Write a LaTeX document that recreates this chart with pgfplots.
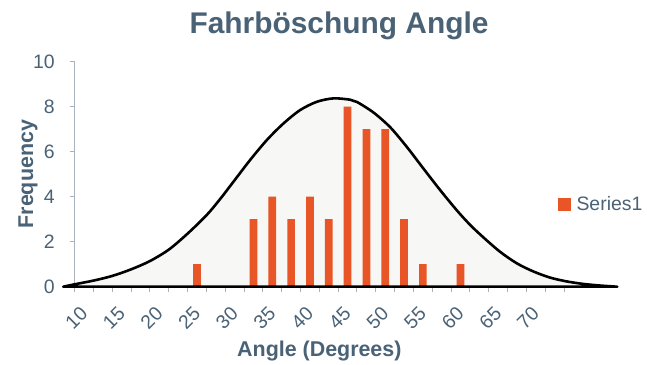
\documentclass[border=0pt]{standalone}
\usepackage{pgfplots}
\pgfplotsset{compat=1.18}
\usepackage{pgfplotstable}
\usepackage{fontspec}
\setmainfont{Liberation Sans}

\definecolor{textcol}{RGB}{74,98,118}
\definecolor{axiscol}{RGB}{170,178,188}
\definecolor{barcol}{RGB}{232,85,38}
\definecolor{areacol}{RGB}{247,247,245}

% observed frequencies per 2.5-degree bin
\pgfplotstableread{
deg  freq
25   1
32.5 3
35   4
37.5 3
40   4
42.5 3
45   8
47.5 7
50   7
52.5 3
55   1
60   1
}\bins

% fitted normal curve, scaled to the counts
\pgfplotstableread{
deg   y
7.23  0
8.8   0.11
11.23 0.27
13.75 0.48
16.23 0.77
18.75 1.14
21.3  1.66
23.78 2.37
26.3  3.19
28.08 3.90
29.85 4.67
32.05 5.63
34.28 6.52
36.5  7.26
38.7  7.85
40.93 8.22
43.15 8.37
45.35 8.31
46.25 8.21
48.45 7.74
50.68 7.08
52.9  6.20
55.1  5.24
57.33 4.28
59.55 3.38
61.3  2.74
63.08 2.18
65.3  1.54
67.53 1.03
69.73 0.67
71.95 0.40
74.18 0.23
76.38 0.12
78.6  0.05
80.83 0
}\curve

\begin{document}
\begin{tikzpicture}
\begin{axis}[
  scale only axis, width=489.3bp, height=225bp,
  xmin=8.75, xmax=73.75, ymin=0, ymax=10,
  clip=false,
  axis x line*=bottom, axis y line*=left,
  axis line style={draw=axiscol, line width=1bp},
  tick align=outside,
  major tick length=5bp, minor tick length=5bp,
  tick style={draw=axiscol, line width=1bp},
  ytick={0,2,...,10},
  xtick={10,15,...,70},
  minor xtick={8.75,11.25,13.75,16.25,18.75,21.25,23.75,26.25,28.75,31.25,33.75,36.25,38.75,41.25,43.75,46.25,48.75,51.25,53.75,56.25,58.75,61.25,63.75,66.25,68.75,71.25,73.75},
  every major x tick/.append style={draw=none},
  /pgf/number format/assume math mode=true,
  tick label style={font=\fontsize{19.5}{19.5}\selectfont, text=textcol},
  yticklabel style={inner sep=0pt, anchor=east, xshift=-14.7bp},
  xticklabel style={yshift=-18.3bp, rotate=45, anchor=east, inner sep=0pt},
  xlabel={Angle (Degrees)},
  ylabel={Frequency},
  label style={font=\bfseries\fontsize{21.5}{21.5}\selectfont, text=textcol},
  xlabel style={at={(axis description cs:0.5,-0.3111)}, anchor=base},
  ylabel style={at={(axis description cs:-0.0852,0.5)}, anchor=base, rotate=0},
  legend style={draw=none, fill=none, inner sep=0pt, outer sep=0pt,
    at={(axis description cs:0.9878,0.3653)}, anchor=west,
    column sep=6bp, font=\fontsize{19.5}{19.5}\selectfont, text=textcol,
    nodes={inner sep=0pt}},
]
% invisible frame fixing the page size
\path (axis description cs:-0.15267,-0.33467) rectangle (axis description cs:1.16963,1.27422);

\addplot[forget plot, fill=areacol, draw=none, smooth] table[x=deg, y=y] {\curve} \closedcycle;

\addplot[ybar, bar width=7.7bp, fill=barcol, draw=none,
  legend image code/.code={\fill[barcol] (0bp,-6.25bp) rectangle (12.5bp,6.25bp);}]
  table[x=deg, y=freq] {\bins};
\addlegendentry{Series1}

\addplot[forget plot, draw=black, line width=2.6bp, smooth, line join=round, line cap=round]
  table[x=deg, y=y] {\curve} \closedcycle;

\node[anchor=base, font=\bfseries\fontsize{30}{30}\selectfont, text=textcol]
  at (axis description cs:0.5402,1.1231) {Fahrböschung Angle};
\end{axis}
\end{tikzpicture}
\end{document}
